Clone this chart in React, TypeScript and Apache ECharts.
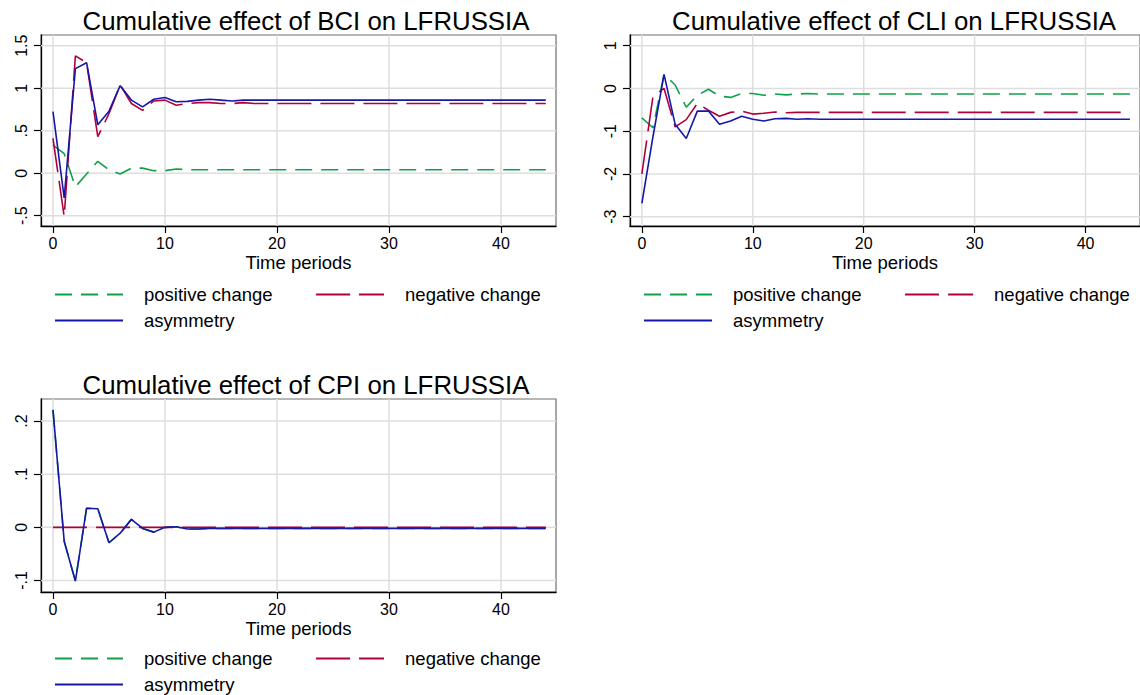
import React, { useEffect, useRef } from "react";
import * as echarts from "echarts";

const FONT = '"Liberation Sans", Arial, Helvetica, sans-serif';
const GREEN = "#10a04a";
const RED = "#b2003c";
const BLUE = "#1616a8";
const GRIDLINE = "#dedede";

const periods = [
  0, 1, 2, 3, 4, 5, 6, 7, 8, 9, 10, 11, 12, 13, 14, 15, 16, 17, 18, 19, 20, 21, 22,
  23, 24, 25, 26, 27, 28, 29, 30, 31, 32, 33, 34, 35, 36, 37, 38, 39, 40, 41, 42, 43, 44,
];
const xTicks = [0, 10, 20, 30, 40];

// BCI
const bciPositive = [
  0.33, 0.23, -0.16, -0.01, 0.14, 0.04, -0.01, 0.06, 0.06, 0.03, 0.03, 0.05, 0.04, 0.04,
  0.04, 0.04, 0.04, 0.04, 0.04, 0.04, 0.04, 0.04, 0.04, 0.04, 0.04, 0.04, 0.04, 0.04,
  0.04, 0.04, 0.04, 0.04, 0.04, 0.04, 0.04, 0.04, 0.04, 0.04, 0.04, 0.04, 0.04, 0.04,
  0.04, 0.04, 0.04,
];
const bciNegative = [
  0.41, -0.51, 1.38, 1.3, 0.43, 0.7, 1.04, 0.82, 0.74, 0.85, 0.86, 0.8, 0.82, 0.83,
  0.83, 0.82, 0.82, 0.83, 0.82, 0.82, 0.82, 0.82, 0.82, 0.82, 0.82, 0.82, 0.82, 0.82,
  0.82, 0.82, 0.82, 0.82, 0.82, 0.82, 0.82, 0.82, 0.82, 0.82, 0.82, 0.82, 0.82, 0.82,
  0.82, 0.82, 0.82,
];
const bciAsymmetry = [
  0.725, -0.29, 1.23, 1.3, 0.57, 0.73, 1.03, 0.86, 0.78, 0.87, 0.89, 0.84, 0.845, 0.86,
  0.87, 0.86, 0.85, 0.86, 0.86, 0.86, 0.86, 0.86, 0.86, 0.86, 0.86, 0.86, 0.86, 0.86,
  0.86, 0.86, 0.86, 0.86, 0.86, 0.86, 0.86, 0.86, 0.86, 0.86, 0.86, 0.86, 0.86, 0.86,
  0.86, 0.86, 0.86,
];
const bciYTicks = [-0.5, 0, 0.5, 1, 1.5];

// CLI
const cliPositive = [
  -0.69, -0.92, 0.33, 0.08, -0.44, -0.16, -0.02, -0.18, -0.21, -0.12, -0.12, -0.16, -0.13,
  -0.15, -0.13, -0.12, -0.13, -0.13, -0.13, -0.13, -0.13, -0.13, -0.13, -0.13, -0.13,
  -0.13, -0.13, -0.13, -0.13, -0.13, -0.13, -0.13, -0.13, -0.13, -0.13, -0.13, -0.13,
  -0.13, -0.13, -0.13, -0.13, -0.13, -0.13, -0.13, -0.13,
];
const cliNegative = [
  -2.0, -0.19, 0.0, -0.9, -0.73, -0.35, -0.51, -0.65, -0.56, -0.53, -0.6, -0.58, -0.55,
  -0.57, -0.56, -0.56, -0.56, -0.56, -0.56, -0.56, -0.56, -0.56, -0.56, -0.56, -0.56,
  -0.56, -0.56, -0.56, -0.56, -0.56, -0.56, -0.56, -0.56, -0.56, -0.56, -0.56, -0.56,
  -0.56, -0.56, -0.56, -0.56, -0.56, -0.56, -0.56, -0.56,
];
const cliAsymmetry = [
  -2.69, -1.13, 0.33, -0.84, -1.17, -0.53, -0.53, -0.84, -0.76, -0.65, -0.72, -0.76, -0.71,
  -0.7, -0.72, -0.71, -0.72, -0.72, -0.72, -0.72, -0.72, -0.72, -0.72, -0.72, -0.72,
  -0.72, -0.72, -0.72, -0.72, -0.72, -0.72, -0.72, -0.72, -0.72, -0.72, -0.72, -0.72,
  -0.72, -0.72, -0.72, -0.72, -0.72, -0.72, -0.72, -0.72,
];
const cliYTicks = [-3, -2, -1, 0, 1];

// CPI
const cpiPositive = [
  0.221, -0.026, -0.101, 0.036, 0.035, -0.029, -0.011, 0.015, -0.002, -0.009, 0.0, 0.001,
  -0.003, -0.003, -0.002, -0.002, -0.002, -0.002, -0.002, -0.002, -0.002, -0.002, -0.002,
  -0.002, -0.002, -0.002, -0.002, -0.002, -0.002, -0.002, -0.002, -0.002, -0.002, -0.002,
  -0.002, -0.002, -0.002, -0.002, -0.002, -0.002, -0.002, -0.002, -0.002, -0.002, -0.002,
];
const cpiNegative = [
  0, 0, 0, 0, 0, 0, 0, 0, 0, 0, 0, 0, 0, 0, 0, 0, 0, 0, 0, 0, 0, 0, 0, 0, 0, 0, 0, 0, 0,
  0, 0, 0, 0, 0, 0, 0, 0, 0, 0, 0, 0, 0, 0, 0, 0,
];
const cpiAsymmetry = [
  0.221, -0.026, -0.101, 0.036, 0.035, -0.029, -0.011, 0.015, -0.002, -0.009, 0.0, 0.001,
  -0.003, -0.003, -0.002, -0.002, -0.002, -0.002, -0.002, -0.002, -0.002, -0.002, -0.002,
  -0.002, -0.002, -0.002, -0.002, -0.002, -0.002, -0.002, -0.002, -0.002, -0.002, -0.002,
  -0.002, -0.002, -0.002, -0.002, -0.002, -0.002, -0.002, -0.002, -0.002, -0.002, -0.002,
];
const cpiYTicks = [-0.1, 0, 0.1, 0.2];

const titles = [
  "Cumulative effect of BCI on LFRUSSIA",
  "Cumulative effect of CLI on LFRUSSIA",
  "Cumulative effect of CPI on LFRUSSIA",
];
const seriesNames = ["positive change", "negative change", "asymmetry"];

function stataFmt(v: number): string {
  if (Math.abs(v) < 1e-12) return "0";
  const s = String(Math.round(v * 1000) / 1000);
  return s.replace(/^(-?)0\./, "$1.");
}

const panels = [
  {
    grid: { left: 41, top: 35, width: 515, height: 191 },
    xRange: [-1.07, 44.91],
    yRange: [-0.621, 1.626],
    yTicks: bciYTicks,
    data: [bciPositive, bciNegative, bciAsymmetry],
    title: titles[0],
    titlePos: [306, 21],
    legendLeft: 54,
    legendTops: [285, 311],
  },
  {
    grid: { left: 630, top: 35, width: 515, height: 191 },
    xRange: [-1.07, 44.91],
    yRange: [-3.218, 1.25],
    yTicks: cliYTicks,
    data: [cliPositive, cliNegative, cliAsymmetry],
    title: titles[1],
    titlePos: [894, 21],
    legendLeft: 643,
    legendTops: [285, 311],
  },
  {
    grid: { left: 41, top: 399, width: 515, height: 193 },
    xRange: [-1.07, 44.91],
    yRange: [-0.1216, 0.2414],
    yTicks: cpiYTicks,
    data: [cpiPositive, cpiNegative, cpiAsymmetry],
    title: titles[2],
    titlePos: [306, 385],
    legendLeft: 54,
    legendTops: [649, 675],
  },
];

function buildOption() {
  const grids: any[] = [];
  const xAxes: any[] = [];
  const yAxes: any[] = [];
  const series: any[] = [];
  const legends: any[] = [];
  const graphics: any[] = [];

  const styles = [
    { color: GREEN, type: [17, 9] },
    { color: RED, type: [34, 9] },
    { color: BLUE, type: "solid" },
  ];

  panels.forEach((p, i) => {
    grids.push({
      ...p.grid,
      show: true,
      borderColor: "#6e6e6e",
      borderWidth: 1.2,
      containLabel: false,
    });
    xAxes.push({
      gridIndex: i,
      type: "value",
      min: p.xRange[0],
      max: p.xRange[1],
      axisLine: { show: true, onZero: false, lineStyle: { color: "#000", width: 1.3 } },
      axisTick: { show: true, length: 7, customValues: xTicks, lineStyle: { color: "#000", width: 1.2 } },
      axisLabel: {
        customValues: xTicks,
        fontSize: 16,
        fontFamily: FONT,
        color: "#000",
        margin: 9,
      },
      splitLine: { show: false },
      name: "Time periods",
      nameLocation: "middle",
      nameGap: 27,
      nameTextStyle: { fontSize: 18.5, fontFamily: FONT, color: "#000" },
    });
    yAxes.push({
      gridIndex: i,
      type: "value",
      min: p.yRange[0],
      max: p.yRange[1],
      axisLine: { show: true, onZero: false, lineStyle: { color: "#000", width: 1.3 } },
      axisTick: { show: true, length: 7, customValues: p.yTicks, lineStyle: { color: "#000", width: 1.2 } },
      axisLabel: {
        customValues: p.yTicks,
        rotate: 90,
        fontSize: 16,
        fontFamily: FONT,
        color: "#000",
        margin: 12,
        formatter: (v: number) => stataFmt(v),
      },
      splitLine: { show: false },
    });
    // vertical grid lines at the x ticks
    series.push({
      name: "vgrid" + i,
      type: "custom",
      xAxisIndex: i,
      yAxisIndex: i,
      silent: true,
      z: 1,
      clip: false,
      data: xTicks.map((v) => [v, 0]),
      encode: { x: 0, y: 1 },
      renderItem: (params: any, api: any) => {
        const cs = params.coordSys;
        const pt = api.coord([api.value(0), 0]);
        return {
          type: "line",
          shape: { x1: pt[0], y1: cs.y, x2: pt[0], y2: cs.y + cs.height },
          style: { stroke: GRIDLINE, lineWidth: 1.5 },
        };
      },
    });
    // horizontal grid lines at the y ticks
    series.push({
      name: "hgrid" + i,
      type: "custom",
      xAxisIndex: i,
      yAxisIndex: i,
      silent: true,
      z: 1,
      clip: false,
      data: p.yTicks.map((v) => [0, v]),
      encode: { x: 0, y: 1 },
      renderItem: (params: any, api: any) => {
        const cs = params.coordSys;
        const pt = api.coord([0, api.value(1)]);
        return {
          type: "line",
          shape: { x1: cs.x, y1: pt[1], x2: cs.x + cs.width, y2: pt[1] },
          style: { stroke: GRIDLINE, lineWidth: 1.5 },
        };
      },
    });
    p.data.forEach((arr, k) => {
      series.push({
        name: seriesNames[k],
        type: "line",
        xAxisIndex: i,
        yAxisIndex: i,
        data: periods.map((t, j) => [t, arr[j]]),
        symbol: "none",
        showSymbol: false,
        smooth: false,
        z: 3 + k,
        lineStyle: { color: styles[k].color, width: 1.6, type: styles[k].type },
        itemStyle: { color: styles[k].color },
        emphasis: { disabled: true },
      });
    });
    const legendBase = {
      orient: "horizontal",
      padding: 0,
      itemWidth: 68,
      itemHeight: 12,
      itemGap: 42.5,
      selectedMode: false,
      itemStyle: { opacity: 0, borderWidth: 0 },
      textStyle: { fontSize: 18.5, fontFamily: FONT, color: "#000", padding: [0, 0, 0, 16] },
    };
    legends.push({ ...legendBase, left: p.legendLeft, top: p.legendTops[0], data: [seriesNames[0], seriesNames[1]] });
    legends.push({ ...legendBase, left: p.legendLeft, top: p.legendTops[1], data: [seriesNames[2]] });
    graphics.push({
      type: "text",
      x: p.titlePos[0],
      y: p.titlePos[1],
      style: {
        text: p.title,
        fontSize: 25.8,
        fontFamily: FONT,
        fill: "#000",
        align: "center",
        verticalAlign: "middle",
      },
    });
  });

  return {
    animation: false,
    backgroundColor: "#fff",
    grid: grids,
    xAxis: xAxes,
    yAxis: yAxes,
    series,
    legend: legends,
    graphic: graphics,
  };
}

export default function App() {
  const ref = useRef<HTMLDivElement>(null);
  useEffect(() => {
    document.body.style.margin = "0";
    if (!ref.current) return;
    const chart = echarts.init(ref.current, null, { renderer: "svg" });
    chart.setOption(buildOption() as any);
    return () => chart.dispose();
  }, []);
  return <div ref={ref} style={{ width: 1140, height: 695 }} />;
}
